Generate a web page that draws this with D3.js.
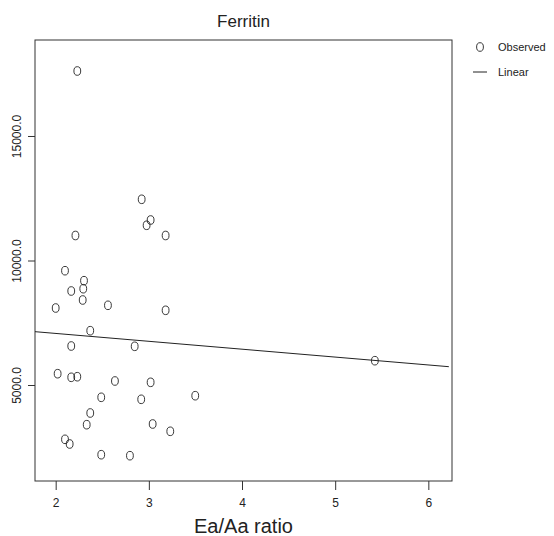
<!DOCTYPE html>
<html><head><meta charset="utf-8">
<script src="https://cdn.jsdelivr.net/npm/d3@7"></script>
<style>body{margin:0;background:#fff}svg{display:block}text{font-family:"Liberation Sans",Arial,sans-serif;fill:#222}</style>
</head><body>
<script>
const title = "Ferritin";
const xLabel = "Ea/Aa ratio";
const legendLabels = ["Observed", "Linear"];
const xTicks = [2, 3, 4, 5, 6];
const yTicks = [5000, 10000, 15000];
const ratio = [2.232,2.923,3.019,2.976,2.212,3.180,2.100,2.304,2.296,2.167,2.290,2.000,2.561,3.180,2.371,2.167,2.848,5.426,2.021,2.167,2.232,2.636,3.019,2.489,2.918,3.498,2.371,2.333,3.041,3.230,2.100,2.150,2.489,2.797];
const ferritin = [17610,12458,11626,11414,11004,11004,9590,9189,8867,8775,8414,8092,8201,8000,7181,6566,6554,5976,5454,5309,5333,5161,5108,4506,4426,4570,3876,3406,3434,3141,2819,2631,2201,2161];
const fitIntercept = 7704, fitSlope = -316.5;
const fitRange = [1.778, 6.22];

const W = 554, H = 536;
const L = 35, R = 452, T = 40, B = 481;
const svg = d3.select("body").append("svg").attr("width", W).attr("height", H);
const x = d3.scaleLinear().domain([1.778, 6.254]).range([L, R]);
const y = d3.scaleLinear().domain([1145, 18855]).range([B, T]);

svg.append("rect").attr("x", L).attr("y", T).attr("width", R - L).attr("height", B - T)
  .attr("fill", "none").attr("stroke", "#333").attr("stroke-width", 1);

const xa = svg.append("g").attr("transform", `translate(0,${B})`)
  .call(d3.axisBottom(x).tickValues(xTicks).tickFormat(d3.format("d")).tickSize(9).tickPadding(8));
xa.select(".domain").remove();
xa.selectAll("line").attr("stroke", "#333");
xa.selectAll("text").attr("font-size", 12).attr("fill", "#222").style("font-family", '"Liberation Sans",Arial,sans-serif');

const ya = svg.append("g").attr("transform", `translate(${L},0)`)
  .call(d3.axisLeft(y).tickValues(yTicks).tickFormat(d3.format(".1f")).tickSize(7).tickPadding(0));
ya.select(".domain").remove();
ya.selectAll("line").attr("stroke", "#333");
ya.selectAll("text").attr("font-size", 12).attr("fill", "#222").style("font-family", '"Liberation Sans",Arial,sans-serif')
  .attr("text-anchor", "middle").attr("x", null).attr("dy", null)
  .attr("transform", "translate(-18,0) rotate(-90)").attr("dominant-baseline", "central");

svg.append("text").attr("x", (L + R) / 2).attr("y", 27).attr("text-anchor", "middle")
  .attr("font-size", 17).text(title);
svg.append("text").attr("x", (L + R) / 2).attr("y", 533).attr("text-anchor", "middle")
  .attr("font-size", 20).text(xLabel);

svg.append("line")
  .attr("x1", x(fitRange[0])).attr("y1", y(fitIntercept + fitSlope * fitRange[0]))
  .attr("x2", x(fitRange[1])).attr("y2", y(fitIntercept + fitSlope * fitRange[1]))
  .attr("stroke", "#222").attr("stroke-width", 1);

svg.append("g").selectAll("ellipse").data(ratio).join("ellipse")
  .attr("cx", (d) => x(d)).attr("cy", (d, i) => y(ferritin[i]))
  .attr("rx", 3.4).attr("ry", 4.3).attr("fill", "none").attr("stroke", "#222").attr("stroke-width", 0.9);

const lg = svg.append("g");
lg.append("ellipse").attr("cx", 480).attr("cy", 47).attr("rx", 3.4).attr("ry", 4.3)
  .attr("fill", "none").attr("stroke", "#222").attr("stroke-width", 0.9);
lg.append("text").attr("x", 498).attr("y", 51).attr("font-size", 11).text(legendLabels[0]);
lg.append("line").attr("x1", 473).attr("x2", 487).attr("y1", 72).attr("y2", 72).attr("stroke", "#222");
lg.append("text").attr("x", 498).attr("y", 76).attr("font-size", 11).text(legendLabels[1]);
</script>
</body></html>
